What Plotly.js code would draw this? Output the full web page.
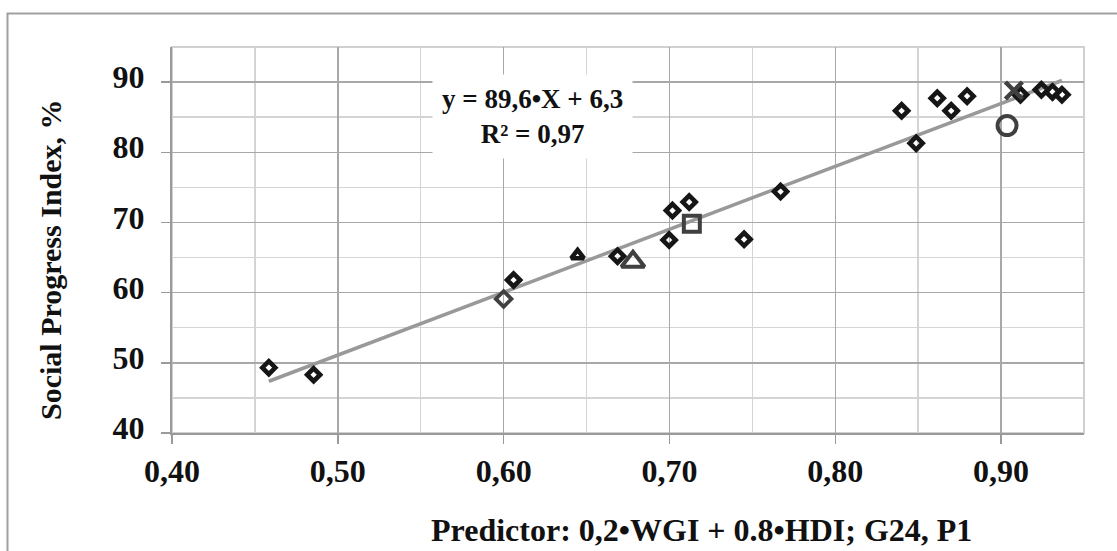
<!DOCTYPE html>
<html>
<head>
<meta charset="utf-8">
<script src="https://cdn.plot.ly/plotly-3.0.1.min.js"></script>
<style>
  html, body { margin: 0; padding: 0; background: #fff; }
  #chart { width: 1117px; height: 551px; }
</style>
</head>
<body>
<div id="chart"></div>
<script>
// ---- data ----
const mainX = [0.4584, 0.4854, 0.606, 0.6687, 0.6998, 0.7018, 0.7119, 0.745, 0.767,
               0.840, 0.8488, 0.8615, 0.8699, 0.8795, 0.9117, 0.9243, 0.931, 0.9367];
const mainY = [49.3, 48.3, 61.8, 65.2, 67.5, 71.7, 72.9, 67.6, 74.4,
               85.9, 81.3, 87.7, 85.9, 88.0, 88.2, 88.9, 88.6, 88.2];

const smallTriX = [0.6446]; const smallTriY = [65.3];
const bigTriX   = [0.678];  const bigTriY   = [64.4];
const squareX   = [0.7135]; const squareY   = [69.8];
const circleX   = [0.9036]; const circleY   = [83.8];
const crossX    = [0.9077]; const crossY    = [88.8];
const greyDiaX  = [0.600];  const greyDiaY  = [59.1];

const slope = 89.6;
const intercept = 6.3;
const r2 = 0.97;

const xTitle = "Predictor: 0,2•WGI + 0.8•HDI; G24, P1";
const yTitle = "Social Progress Index, %";

// ---- trend line endpoints from data extent and fit coefficients ----
const allX = mainX.concat(smallTriX, bigTriX, squareX, circleX, crossX, greyDiaX);
const xMin = Math.min(...allX), xMax = Math.max(...allX);
const trendX = [xMin, xMax];
const trendY = trendX.map(v => slope * v + intercept);

const W = 1117, H = 551;
const m = { l: 172, r: 33, t: 47, b: 118 };
const pw = W - m.l - m.r, ph = H - m.t - m.b;
const pxX = p => (p - m.l) / pw;
const pxY = p => (H - m.b - p) / ph;

const font = "Liberation Serif, Times New Roman, serif";
const dark = "#404040";
const black = "#161616";
const fmt = v => String(v).replace(".", ",");

const traces = [
  { x: trendX, y: trendY, mode: "lines", line: { color: "#999999", width: 3.5 }, hoverinfo: "skip" },
  { x: mainX, y: mainY, mode: "markers",
    marker: { symbol: "diamond-open", size: 10, color: black, line: { width: 4.6, color: black } } },
  { x: greyDiaX, y: greyDiaY, mode: "markers",
    marker: { symbol: "diamond-open", size: 12, color: dark, line: { width: 3.8, color: dark } } },
  { x: smallTriX, y: smallTriY, mode: "markers",
    marker: { symbol: "triangle-up-open", size: 11, color: black, line: { width: 4.5, color: black } } },
  { x: bigTriX, y: bigTriY, mode: "markers",
    marker: { symbol: "triangle-up-open", size: 20, color: dark, line: { width: 4, color: dark } } },
  { x: squareX, y: squareY, mode: "markers",
    marker: { symbol: "square-open", size: 16, color: dark, line: { width: 4, color: dark } } },
  { x: circleX, y: circleY, mode: "markers",
    marker: { symbol: "circle-open", size: 19, color: dark, line: { width: 4, color: dark } } },
  { x: crossX, y: crossY, mode: "markers",
    marker: { symbol: "x-thin-open", size: 17, color: dark, line: { width: 4.5, color: dark } } }
];

const layout = {
  width: W, height: H,
  margin: m,
  showlegend: false,
  paper_bgcolor: "#fff", plot_bgcolor: "#fff",
  separators: ", ",
  font: { family: font, size: 32, color: "#111" },
  xaxis: {
    range: [0.4, 0.95], dtick: 0.1, tick0: 0.4, tickformat: ".2f",
    showgrid: true, gridcolor: "#a8a8a8", gridwidth: 1.5,
    minor: { dtick: 0.05, showgrid: true, gridcolor: "#d4d4d4", gridwidth: 1.5 },
    showline: true, linecolor: "#9a9a9a", linewidth: 2,
    ticks: "outside", ticklen: 9, tickwidth: 1.5, tickcolor: "#9a9a9a",
    tickfont: { family: font, size: 32, weight: "bold", color: "#111" },
    ticklabelstandoff: 0,
    zeroline: false, fixedrange: true
  },
  yaxis: {
    range: [40, 95], dtick: 10, tick0: 40,
    showgrid: true, gridcolor: "#a8a8a8", gridwidth: 1.5,
    minor: { dtick: 5, showgrid: true, gridcolor: "#d4d4d4", gridwidth: 1.5 },
    showline: true, linecolor: "#9a9a9a", linewidth: 2,
    ticks: "outside", ticklen: 9, tickwidth: 1.5, tickcolor: "#9a9a9a",
    tickfont: { family: font, size: 32, weight: "bold", color: "#111" },
    ticklabelstandoff: 10, ticklabelshift: -5,
    zeroline: false, fixedrange: true
  },
  shapes: [
    { type: "rect", xref: "paper", yref: "paper", x0: 0, x1: 1, y0: 0, y1: 1,
      line: { color: "#d0d0d0", width: 2 }, layer: "below" },
    { type: "rect", xref: "paper", yref: "paper", x0: pxX(7.5), x1: 1.5, y0: -0.5, y1: pxY(13.5),
      line: { color: "#a0a0a0", width: 2 }, layer: "below" }
  ],
  annotations: [
    { xref: "paper", yref: "paper", x: pxX(701), y: pxY(530), xanchor: "center", yanchor: "middle",
      text: xTitle, showarrow: false, font: { family: font, size: 32, weight: "bold", color: "#111" } },
    { xref: "paper", yref: "paper", x: pxX(50), y: pxY(260), xanchor: "center", yanchor: "middle",
      text: yTitle, textangle: -90, showarrow: false, font: { family: font, size: 30, weight: "bold", color: "#111" } },
    { xref: "paper", yref: "paper", x: pxX(532), y: pxY(117), xanchor: "center", yanchor: "middle",
      text: "y = " + fmt(slope) + "•X + " + fmt(intercept) + "<br>R² = " + fmt(r2),
      showarrow: false, bgcolor: "#ffffff", borderpad: 9,
      font: { family: font, size: 27, weight: "bold", color: "#111" } }
  ]
};

Plotly.newPlot("chart", traces, layout, { staticPlot: true, displayModeBar: false });
</script>
</body>
</html>
